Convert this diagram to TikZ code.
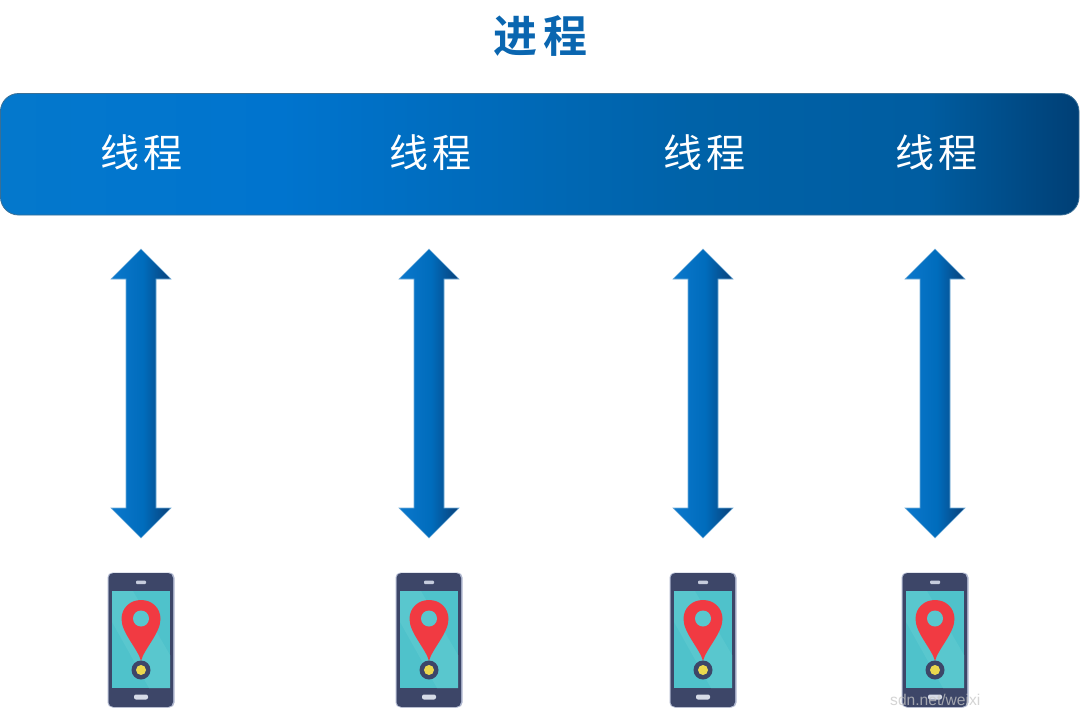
\documentclass[tikz,border=0pt]{standalone}
\usepackage{fontspec}
\newfontfamily\cjk{Noto Sans CJK SC}
\newfontfamily\cjkb{Noto Sans CJK SC Bold}
\newfontfamily\wmfont{Liberation Sans}
\definecolor{bandA}{HTML}{0478CC}
\definecolor{bandB}{HTML}{0074CE}
\definecolor{bandC}{HTML}{0062A8}
\definecolor{bandD}{HTML}{003F75}
\definecolor{arrA}{HTML}{0B78CC}
\definecolor{arrB}{HTML}{006CBC}
\definecolor{arrC}{HTML}{0A4078}
\definecolor{titleblue}{HTML}{0A66B0}
\definecolor{phonebody}{HTML}{3D4668}
\definecolor{phoneedge}{HTML}{AEB6CE}
\definecolor{screenA}{HTML}{4FC2CB}
\definecolor{screenB}{HTML}{59C7CE}
\definecolor{pinred}{HTML}{F13A42}
\definecolor{pinyellow}{HTML}{EBD84E}
\pgfdeclarehorizontalshading{bandshade}{100bp}{color(0bp)=(bandA); color(25bp)=(bandA); color(38bp)=(bandB); color(57bp)=(bandC); color(68bp)=(bandC!85!bandD); color(75bp)=(bandD); color(100bp)=(bandD)}
\pgfdeclarehorizontalshading{arrowshade}{100bp}{color(0bp)=(arrA); color(25bp)=(arrA); color(52bp)=(arrB); color(62bp)=(arrB!55!arrC); color(75bp)=(arrC); color(100bp)=(arrC)}
\tikzset{
  threadlabel/.style={font=\cjk\fontsize{39}{39}\selectfont, text=white, inner sep=0pt},
  titlelabel/.style={font=\cjkb\fontsize{44}{44}\selectfont, text=titleblue, inner sep=0pt},
  bandbox/.style={draw=bandC!55!gray, line width=0.8pt, rounded corners=18pt, shading=bandshade},
  blockarrow/.style={draw=arrB!55!white, line width=0.6pt, shading=arrowshade},
  watermark/.style={font=\wmfont\fontsize{15.6}{15.6}\selectfont, text=gray!45, opacity=0.75, inner sep=0pt},
}
\begin{document}
\begin{tikzpicture}[x=1pt,y=-1pt]
\useasboundingbox (0,0) rectangle (1080,718);
\fill[white] (0,0) rectangle (1080,718);
\node[titlelabel] (title) at (540.5,36) {进\hspace{6pt}程};
\path[bandbox] (0.5,93.5) rectangle (1079,215);
\foreach \i/\cx/\lx in {1/141/141.5, 2/429/430.5, 3/703/704.5, 4/935/936.5} {
  \node[threadlabel] (thread\i) at (\lx,153) {线\hspace{4pt}程};
  \begin{scope}[shift={(\cx,0)}]
    % double block arrow between thread and phone
    \coordinate (up\i) at (0,249);
    \coordinate (down\i) at (0,538);
    \path[blockarrow] (up\i) -- (30,279) -- (15,279) -- (15,508) -- (30,508)
      -- (down\i) -- (-30,508) -- (-15,508) -- (-15,279) -- (-30,279) -- cycle;
    % phone
    \coordinate (phone\i) at (0,640);
    \fill[phoneedge, rounded corners=5pt] (-33.5,572.5) rectangle (33.5,707.5);
    \fill[phonebody, rounded corners=5pt] (-32.5,573) rectangle (32,707);
    \fill[screenA] (-29,591) rectangle (29,688);
    \fill[screenB] (-29,591) -- (-8,591) -- (29,655) -- (29,688) -- (8,688) -- (-29,622) -- cycle;
    \fill[phoneedge!70!white, rounded corners=1pt] (-5,580.5) rectangle (5,584);
    \fill[phoneedge!50!white, rounded corners=2pt] (-7,694.5) rectangle (7,699.5);
    % map pin
    \fill[pinred] (0,661) .. controls (-3,649) and (-19.5,633) .. (-19.5,619)
      .. controls (-19.5,608) and (-11,600) .. (0,600)
      .. controls (11,600) and (19.5,608) .. (19.5,619)
      .. controls (19.5,633) and (3,649) .. (0,661) -- cycle;
    \fill[screenB] (0,618.5) circle[radius=8];
    \fill[phonebody] (0,670) circle[radius=9.5];
    \fill[pinyellow] (0,670) circle[radius=5];
  \end{scope}
}
\node[watermark, anchor=base west] (mark) at (890,705) {sdn.net/weixi};
\end{tikzpicture}
\end{document}
